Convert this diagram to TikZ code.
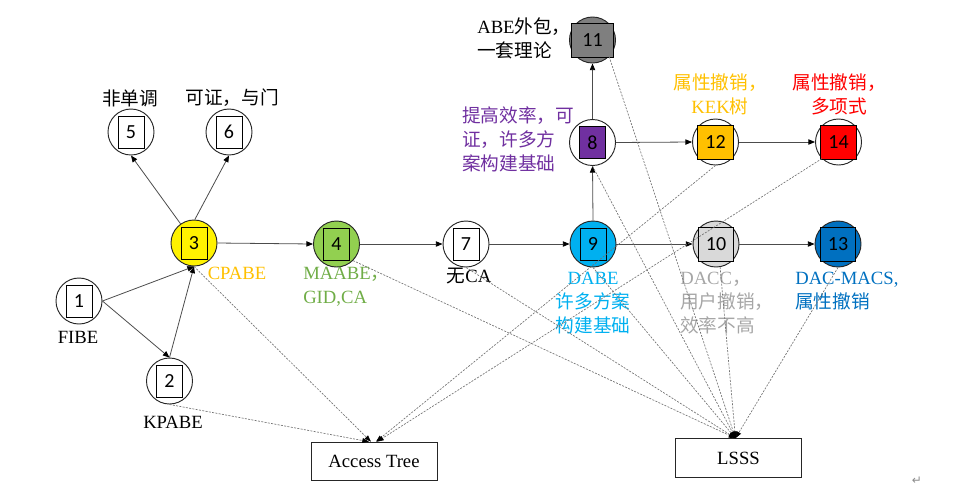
\documentclass[tikz,border=0pt]{standalone}
\usepackage{fontspec}
\setmainfont{Liberation Serif}
\newfontfamily\cjk{Noto Sans CJK SC}
\newfontfamily\numfont{Carlito}
\newfontfamily\symfont{DejaVu Sans}
\usetikzlibrary{arrows.meta, positioning, calc}
\definecolor{cporange}{HTML}{FFC000}
\definecolor{magreen}{HTML}{92D050}
\definecolor{matext}{HTML}{70AD47}
\definecolor{dacyan}{HTML}{00B0F0}
\definecolor{dagray}{HTML}{D9D9D9}
\definecolor{dactext}{HTML}{A6A6A6}
\definecolor{outgray}{HTML}{7F7F7F}
\definecolor{macsblue}{HTML}{0070C0}
\definecolor{effpurple}{HTML}{7030A0}
\definecolor{revred}{HTML}{FF0000}
\newcommand{\zh}[1]{{\cjk #1}}

\begin{document}
\begin{tikzpicture}[x=0.75pt, y=-0.75pt,
  circ/.style={draw=black!85, circle, minimum size=34.5pt, inner sep=0pt, line width=0.7pt},
  sqbox/.style={draw=black, line width=0.7pt, minimum width=19.5pt, minimum height=24pt, inner sep=0pt, font=\numfont\fontsize{15}{15}\selectfont},
  wsq/.style={sqbox, minimum width=26.5pt, minimum height=25.5pt},
  lbl/.style={font=\fontsize{14}{18}\selectfont, inner sep=0pt, align=center},
  tbox/.style={draw=black!85, line width=0.7pt, minimum width=94.5pt, minimum height=29pt, font=\fontsize{14}{16}\selectfont},
  arr/.style={draw=black!70, line width=0.6pt, -{Triangle[length=5pt, width=4pt, color=black]}},
  dashline/.style={draw=black!55, dash pattern=on 1.5pt off 1pt, line width=0.5pt, -{Triangle[length=5pt, width=3.5pt, color=black]}}
]
  \useasboundingbox (0,0) rectangle (962,497);

  % scheme nodes
  \node[circ] (n1) at (79,301) {};
  \node[circ] (n2) at (169.5,381) {};
  \node[circ, fill=yellow] (n3) at (194,243) {};
  \node[circ, fill=magreen] (n4) at (336.5,244) {};
  \node[circ] (n5) at (131,132) {};
  \node[circ] (n6) at (229,132) {};
  \node[circ] (n7) at (466,244) {};
  \node[circ] (n8) at (592.5,142.5) {};
  \node[circ, fill=dacyan] (n9) at (593,244) {};
  \node[circ, fill=dagray] (n10) at (716,244) {};
  \node[circ, fill=outgray] (n11) at (592.5,40) {};
  \node[circ] (n12) at (715.5,142) {};
  \node[circ, fill=macsblue] (n13) at (838,244) {};
  \node[circ] (n14) at (838.5,142) {};

  \node[sqbox] (s1) at (n1) {1};
  \node[sqbox] (s2) at (n2) {2};
  \node[sqbox, fill=yellow] (s3) at (n3) {3};
  \node[sqbox, fill=magreen] (s4) at (n4) {4};
  \node[sqbox] (s5) at (n5) {5};
  \node[sqbox] (s6) at (n6) {6};
  \node[sqbox] (s7) at (n7) {7};
  \node[sqbox, fill=effpurple] (s8) at (n8) {8};
  \node[sqbox, fill=dacyan] (s9) at (n9) {9};
  \node[wsq, fill=dagray] (s10) at (n10) {10};
  \node[wsq, fill=outgray, minimum width=31pt] (s11) at (n11) {11};
  \node[wsq, fill=cporange] (s12) at (n12) {12};
  \node[wsq, fill=macsblue] (s13) at (n13) {13};
  \node[wsq, fill=revred] (s14) at (n14) {14};

  % secret sharing boxes
  \node[tbox] (at) at (374,461.5) {Access Tree};
  \node[tbox] (lsss) at (738.5,458) {LSSS};

  % labels
  \node[lbl] (l1) at (78,337) {FIBE};
  \node[lbl] (l2) at (173,422) {KPABE};
  \node[lbl, text=cporange] (l3) at (237,273) {CPABE};
  \node[lbl, text=matext, align=left, anchor=west] (l4) at (303,287) {MAABE\zh{，}\\GID,CA};
  \node[lbl] (l5) at (130,98) {\zh{非单调}};
  \node[lbl] (l6) at (232,98) {\zh{可证，与门}};
  \node[lbl] (l7) at (469,276) {\zh{无}CA};
  \node[lbl, text=effpurple, align=left, anchor=west] (l8) at (462,139) {\zh{提高效率，可}\\\zh{证，许多方}\\\zh{案构建基础}};
  \node[lbl, text=dacyan] (l9) at (593,303) {DABE\\\zh{许多方案}\\\zh{构建基础}};
  \node[lbl, text=dactext, align=left, anchor=west] (l10) at (680,303) {DACC\zh{，}\\\zh{用户撤销，}\\\zh{效率不高}};
  \node[lbl, align=left, anchor=west] (l11) at (477,38) {ABE\zh{外包，}\\\zh{一套理论}};
  \node[lbl, text=cporange] (l12) at (720,94) {\zh{属性撤销，}\\KEK\zh{树}};
  \node[lbl, text=macsblue, align=left, anchor=west] (l13) at (795,291) {DAC-MACS,\\\zh{属性撤销}};
  \node[lbl, text=revred] (l14) at (839,94) {\zh{属性撤销，}\\\zh{多项式}};
  \node[text=black!45, font=\symfont\fontsize{9}{9}\selectfont] (pm) at (917,481) {↵};

  % evolution arrows
  \draw[arr] (n1.east) -- (n3.south);
  \draw[arr] (n1.east) -- (n2.north);
  \draw[arr] (n2.north) -- (n3.south);
  \draw[arr] (n3.125) -- (n5.south);
  \draw[arr] (n3.88) -- (n6.south);
  \draw[arr] (n3.east) -- (n4.west);
  \draw[arr] (n4.east) -- (n7.west);
  \draw[arr] (n7.east) -- (n9.west);
  \draw[arr] (n9.north) -- (n8.south);
  \draw[arr] (n8.north) -- (n11.south);
  \draw[arr] (n8.east) -- (n12.west);
  \draw[arr] (n12.east) -- (n14.west);
  \draw[arr] (n9.east) -- (n10.west);
  \draw[arr] (n10.east) -- (n13.west);

  % access structures
  \draw[dashline] (n2.south) -- ($(at.north)+(-5,0)$);
  \draw[dashline] (n3.south) -- ($(at.north)+(-3,0)$);
  \draw[dashline] (n12.south) -- ($(at.north)+(2,0)$);
  \draw[dashline] (n14.south west) -- ($(at.north)+(3,0)$);
  \foreach \src/\ang in {n4/-45, n7/-90, n8/-90, n9/-90, n11/-45, n10/-80, n13/-90}
    \draw[dashline] (\src.\ang) -- ($(lsss.north)+(-3,0)$);
\end{tikzpicture}
\end{document}
